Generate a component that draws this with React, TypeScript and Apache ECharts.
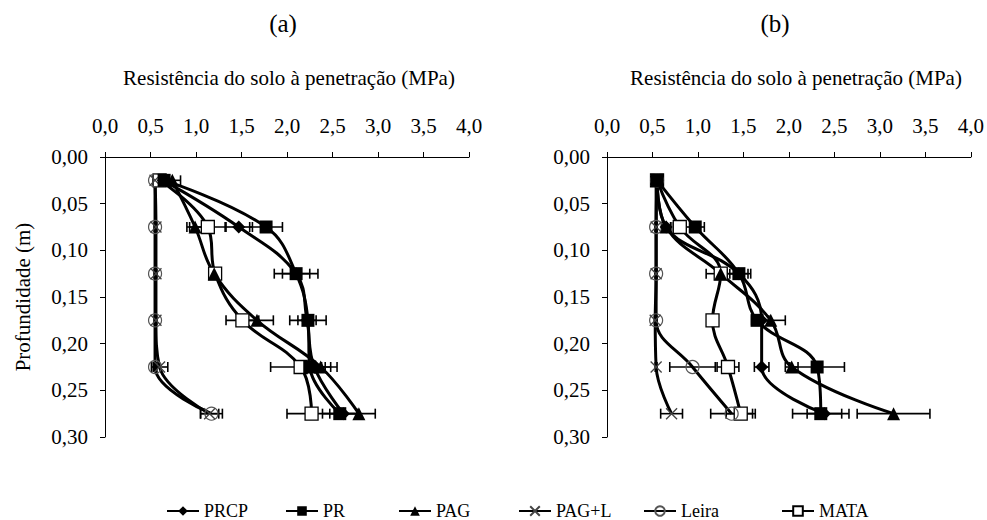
import React, { useEffect, useRef } from "react";
import * as echarts from "echarts";

const depths = [0.025, 0.075, 0.125, 0.175, 0.225, 0.275];
const seriesNames = ["PRCP", "PR", "PAG", "PAG+L", "Leira", "MATA"];
const drawOrder = ["MATA", "Leira", "PAG+L", "PRCP", "PR", "PAG"];
const xTicks = ["0,0", "0,5", "1,0", "1,5", "2,0", "2,5", "3,0", "3,5", "4,0"];

// Panel (a) values (MPa) and error half-widths
const a_PRCP = [0.64, 1.47, 2.1, 2.22, 2.3, 2.62];
const a_PR = [0.65, 1.77, 2.1, 2.23, 2.25, 2.58];
const a_PAG = [0.74, 0.99, 1.2, 1.67, 2.37, 2.79];
const a_PAGL = [0.55, 0.56, 0.56, 0.56, 0.6, 1.15];
const a_Leira = [0.55, 0.55, 0.55, 0.55, 0.55, 1.17];
const a_MATA = [0.6, 1.13, 1.21, 1.51, 2.15, 2.27];
const a_PRCP_err = [0.03, 0.15, 0.15, 0.1, 0.12, 0.15];
const a_PR_err = [0.03, 0.18, 0.24, 0.2, 0.13, 0.19];
const a_PAG_err = [0.09, 0.09, 0.05, 0.18, 0.18, 0.18];
const a_PAGL_err = [0.01, 0.01, 0.01, 0.01, 0.09, 0.1];
const a_Leira_err = [0.02, 0.01, 0.01, 0.01, 0.02, 0.12];
const a_MATA_err = [0.03, 0.2, 0.05, 0.18, 0.33, 0.27];

// Panel (b)
const b_PRCP = [0.55, 0.65, 1.45, 1.7, 1.7, 2.39];
const b_PR = [0.55, 0.97, 1.45, 1.65, 2.31, 2.35];
const b_PAG = [0.55, 0.65, 1.25, 1.8, 2.03, 3.15];
const b_PAGL = [0.54, 0.54, 0.54, 0.53, 0.54, 0.71];
const b_Leira = [0.55, 0.54, 0.54, 0.54, 0.94, 1.37];
const b_MATA = [0.55, 0.8, 1.25, 1.16, 1.33, 1.47];
const b_PRCP_err = [0.02, 0.05, 0.1, 0.08, 0.08, 0.19];
const b_PR_err = [0.02, 0.1, 0.13, 0.06, 0.3, 0.31];
const b_PAG_err = [0.02, 0.05, 0.16, 0.16, 0.07, 0.4];
const b_PAGL_err = [0.01, 0.01, 0.01, 0.01, 0.01, 0.12];
const b_Leira_err = [0.01, 0.01, 0.01, 0.01, 0.25, 0.23];
const b_MATA_err = [0.02, 0.07, 0.05, 0.05, 0.12, 0.16];

const FONT = "Liberation Serif";

const symbolStyles: Record<string, any> = {
  PRCP: { symbol: "diamond", symbolSize: 13, itemStyle: { color: "#000" } },
  PR: { symbol: "rect", symbolSize: 13, itemStyle: { color: "#000" } },
  PAG: { symbol: "triangle", symbolSize: 13, itemStyle: { color: "#000" } },
  "PAG+L": {
    symbol: "path://M0,0L10,10M10,0L0,10",
    symbolSize: 11,
    itemStyle: { color: "rgba(0,0,0,0)", borderColor: "#444", borderWidth: 1.3 },
  },
  Leira: {
    symbol: "circle",
    symbolSize: 13,
    itemStyle: { color: "rgba(255,255,255,0)", borderColor: "#555", borderWidth: 1.2 },
  },
  MATA: {
    symbol: "rect",
    symbolSize: 13,
    itemStyle: { color: "#fff", borderColor: "#000", borderWidth: 1.3 },
  },
};

function makeLine(name: string, vals: number[], idx: number) {
  return {
    type: "line",
    name,
    xAxisIndex: idx,
    yAxisIndex: idx,
    data: vals.map((v, i) => [v, depths[i]]),
    smooth: 0.4,
    showAllSymbol: true,
    lineStyle: { color: "#000", width: 3 },
    z: 3,
    ...symbolStyles[name],
  };
}

function makeErr(valsList: number[][], errList: number[][], idx: number) {
  const data: number[][] = [];
  valsList.forEach((vals, s) => {
    vals.forEach((v, i) => {
      data.push([v - errList[s][i], v + errList[s][i], depths[i]]);
    });
  });
  return {
    type: "custom",
    xAxisIndex: idx,
    yAxisIndex: idx,
    silent: true,
    z: 2,
    encode: { x: [0, 1], y: 2 },
    data,
    renderItem: (params: any, api: any) => {
      const y = api.value(2);
      const p1 = api.coord([api.value(0), y]);
      const p2 = api.coord([api.value(1), y]);
      const h = 5;
      const st = { stroke: "#000", lineWidth: 1.6 };
      return {
        type: "group",
        children: [
          { type: "line", shape: { x1: p1[0], y1: p1[1], x2: p2[0], y2: p2[1] }, style: st },
          { type: "line", shape: { x1: p1[0], y1: p1[1] - h, x2: p1[0], y2: p1[1] + h }, style: st },
          { type: "line", shape: { x1: p2[0], y1: p2[1] - h, x2: p2[0], y2: p2[1] + h }, style: st },
        ],
      };
    },
  };
}

function xAxis(idx: number) {
  return {
    type: "value",
    gridIndex: idx,
    position: "top",
    min: 0,
    max: 4,
    interval: 0.5,
    axisLine: { show: true, onZero: false, lineStyle: { color: "#000", width: 1 } },
    axisTick: { show: true, inside: false, length: 5, lineStyle: { color: "#000" } },
    splitLine: { show: false },
    axisLabel: {
      margin: 21,
      color: "#000",
      fontFamily: FONT,
      fontSize: 21,
      formatter: (v: number) => xTicks[Math.round(v / 0.5)] ?? "",
    },
  };
}

function yAxis(idx: number) {
  return {
    type: "value",
    gridIndex: idx,
    inverse: true,
    min: 0,
    max: 0.3,
    interval: 0.05,
    name: idx === 0 ? "Profundidade (m)" : "",
    nameLocation: "middle",
    nameRotate: 90,
    nameGap: 72,
    nameTextStyle: { color: "#000", fontFamily: FONT, fontSize: 21 },
    axisLine: { show: true, onZero: false, lineStyle: { color: "#000", width: 1 } },
    axisTick: { show: true, inside: false, length: 5, lineStyle: { color: "#000" } },
    splitLine: { show: false },
    axisLabel: {
      margin: 17,
      color: "#000",
      fontFamily: FONT,
      fontSize: 21,
      formatter: (v: number) => v.toFixed(2).replace(".", ","),
    },
  };
}

const legendLefts = [161, 280, 393, 513, 638, 776];

export default function App() {
  const ref = useRef<HTMLDivElement>(null);
  useEffect(() => {
    if (!ref.current) return;
    const chart = echarts.init(ref.current, undefined, { renderer: "svg" });
    const aMap: Record<string, number[]> = { PRCP: a_PRCP, PR: a_PR, PAG: a_PAG, "PAG+L": a_PAGL, Leira: a_Leira, MATA: a_MATA };
    const bMap: Record<string, number[]> = { PRCP: b_PRCP, PR: b_PR, PAG: b_PAG, "PAG+L": b_PAGL, Leira: b_Leira, MATA: b_MATA };
    const aVals = [a_PRCP, a_PR, a_PAG, a_PAGL, a_Leira, a_MATA];
    const aErr = [a_PRCP_err, a_PR_err, a_PAG_err, a_PAGL_err, a_Leira_err, a_MATA_err];
    const bVals = [b_PRCP, b_PR, b_PAG, b_PAGL, b_Leira, b_MATA];
    const bErr = [b_PRCP_err, b_PR_err, b_PAG_err, b_PAGL_err, b_Leira_err, b_MATA_err];
    const series: any[] = [makeErr(aVals, aErr, 0), makeErr(bVals, bErr, 1)];
    drawOrder.forEach((n) => series.push(makeLine(n, aMap[n], 0)));
    drawOrder.forEach((n) => series.push(makeLine(n, bMap[n], 1)));

    const nameStyle = {
      text: "Resistência do solo à penetração (MPa)",
      fontFamily: FONT,
      fontSize: 21,
      fill: "#000",
      align: "center",
      verticalAlign: "middle",
    };
    chart.setOption({
      animation: false,
      backgroundColor: "#fff",
      grid: [
        { left: 105, top: 157, width: 364, height: 280 },
        { left: 607, top: 157, width: 366, height: 280 },
      ],
      xAxis: [xAxis(0), xAxis(1)],
      yAxis: [yAxis(0), yAxis(1)],
      legend: seriesNames.map((n, i) => ({
        data: [n],
        left: legendLefts[i],
        top: 497,
        itemWidth: 32,
        itemHeight: 12,
        selectedMode: false,
        textStyle: { color: "#000", fontFamily: FONT, fontSize: 18 },
      })),
      graphic: [
        {
          type: "text",
          x: 283,
          y: 23,
          style: { text: "(a)", fontFamily: FONT, fontSize: 25, fill: "#000", align: "center", verticalAlign: "middle" },
        },
        {
          type: "text",
          x: 775,
          y: 23,
          style: { text: "(b)", fontFamily: FONT, fontSize: 25, fill: "#000", align: "center", verticalAlign: "middle" },
        },
        { type: "text", x: 289, y: 78, style: { ...nameStyle } },
        { type: "text", x: 796, y: 78, style: { ...nameStyle } },
      ],
      series,
    });
    return () => chart.dispose();
  }, []);
  return (
    <div
      ref={ref}
      style={{ position: "fixed", left: 0, top: 0, width: 987, height: 520, background: "#fff" }}
    />
  );
}
